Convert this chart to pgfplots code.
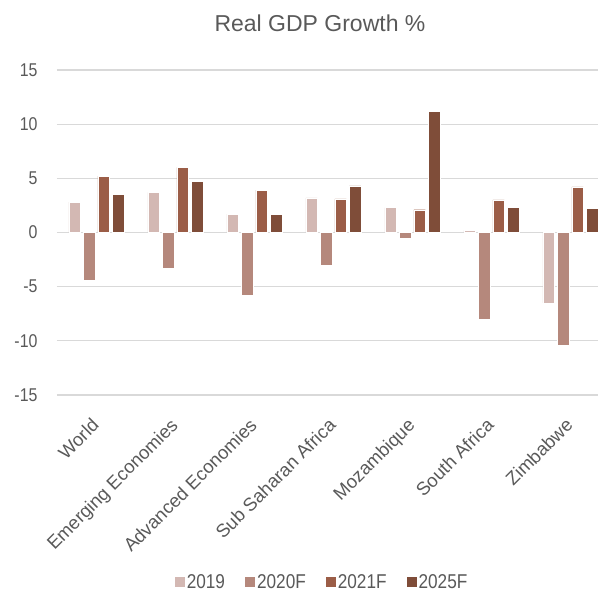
\documentclass[border=0pt]{standalone}
\usepackage{pgfplots}
\pgfplotsset{compat=1.18}
\usepackage{fontspec}
\setmainfont{Liberation Sans}[FakeStretch=0.86]
\newfontfamily\catfont{Liberation Sans}
\definecolor{c19}{HTML}{D3B8B3}
\definecolor{c20}{HTML}{B5887C}
\definecolor{c21}{HTML}{9B5D47}
\definecolor{c25}{HTML}{7F4D39}
\definecolor{txt}{HTML}{595959}
\definecolor{grd}{HTML}{D9D9D9}
\begin{document}
\begin{tikzpicture}[x=1pt,y=1pt]
\useasboundingbox (-57,-198) rectangle (541,395);
\begin{axis}[
  at={(0,0)}, anchor=south west,
  scale only axis, width=541pt, height=325pt,
  ymin=-15, ymax=15, ytick={-15,-10,...,15},
  xmin=-0.5, xmax=6.35,
  xtick={0,...,6},
  xticklabels={World,Emerging Economies,Advanced Economies,Sub Saharan Africa,Mozambique,South Africa,Zimbabwe},
  axis line style={draw=none},
  major tick length=0pt,
  ymajorgrids, grid style={grd, line width=1.2pt},
  ybar=3pt, bar width=11.5pt,
  tick label style={text=txt},
  yticklabel style={font=\fontsize{18.5}{20}\selectfont, anchor=east, xshift=-16pt},
  xticklabel style={font=\catfont\fontsize{18.5}{21}\selectfont, xshift=-6pt, yshift=-17pt, rotate=45, anchor=north east},
  /pgf/number format/assume math mode=true,
  every axis plot/.append style={draw=white, line width=0.4pt},
  legend style={draw=none, fill=none, at={(0.49,-0.575)}, anchor=center,
    font=\fontsize{20}{22}\selectfont, text=txt,
    /tikz/every even column/.append style={column sep=18pt}},
  legend columns=4,
  legend image code/.code={\path[#1, draw=none] (0pt,-5pt) rectangle (10pt,5pt);},
]
\addplot[fill=c19] coordinates {(0,2.8) (1,3.7) (2,1.7) (3,3.2) (4,2.3) (5,0.2) (6,-6.5)};
\addplot[fill=c20] coordinates {(0,-4.4) (1,-3.3) (2,-5.8) (3,-3.0) (4,-0.5) (5,-8.0) (6,-10.4)};
\addplot[fill=c21] coordinates {(0,5.2) (1,6.0) (2,3.9) (3,3.1) (4,2.1) (5,3.0) (6,4.2)};
\addplot[fill=c25] coordinates {(0,3.5) (1,4.7) (2,1.7) (3,4.3) (4,11.2) (5,2.3) (6,2.2)};
\legend{2019,2020F,2021F,2025F}
\end{axis}
\node[text=txt, font=\catfont\fontsize{23}{26}\selectfont, anchor=base] at (263,363.3) {Real GDP Growth \%};
\end{tikzpicture}
\end{document}
